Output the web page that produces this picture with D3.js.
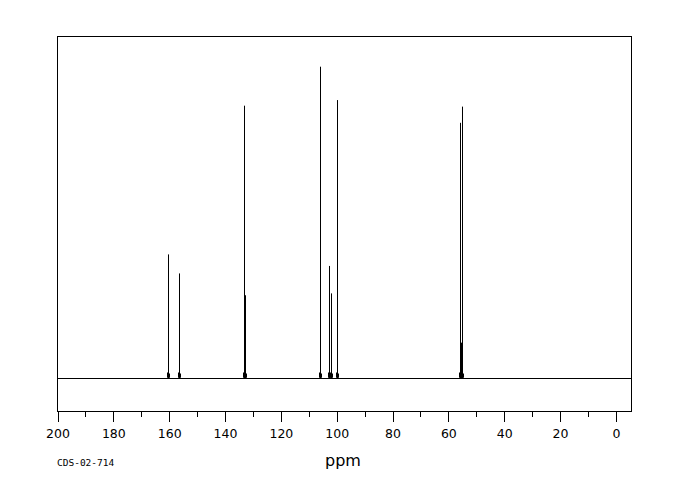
<!DOCTYPE html>
<html><head><meta charset="utf-8">
<script src="https://cdn.jsdelivr.net/npm/d3@7/dist/d3.min.js"></script>
<style>body{margin:0;background:#fff}svg{display:block}</style>
</head><body><svg id="c" width="680" height="500"></svg>
<script>
// Peak positions (ppm) and relative intensities (tallest = 100)
const peakPpm = [160.23, 156.29, 133.0, 132.57, 105.77, 102.4, 102.0, 99.68, 55.61, 55.25, 54.89];
const peakInt = [39.8, 33.7, 87.5, 26.7, 100, 36.1, 27.3, 89.3, 82.0, 11.5, 87.2];
const majorTicks = [200, 180, 160, 140, 120, 100, 80, 60, 40, 20, 0];
const minorTicks = [190, 170, 150, 130, 110, 90, 70, 50, 30, 10];
const xLabel = "ppm";
const codeLabel = "CDS-02-714";

(function () {
const svg = d3.select("#c");
const mLeft = 57.5, mRight = 631.5, mTop = 36.5, mBottom = 411.5;
const x = d3.scaleLinear().domain([200, -5.6]).range([mLeft, mRight]);
const y = d3.scaleLinear().domain([0, 100]).range([378.5, 66.7]);

svg.append("rect").attr("x", mLeft).attr("y", mTop)
  .attr("width", mRight - mLeft).attr("height", mBottom - mTop)
  .attr("fill", "none").attr("stroke", "#000").attr("stroke-width", 1)
  .attr("shape-rendering", "crispEdges");

const gMaj = svg.append("g").attr("transform", `translate(0,${mBottom})`)
  .call(d3.axisBottom(x).tickValues(majorTicks).tickSize(10).tickPadding(8).tickFormat(d3.format("d")));
gMaj.select(".domain").remove();
gMaj.selectAll("line").attr("stroke", "#000").attr("shape-rendering", "crispEdges");
gMaj.selectAll("text").attr("font-family", "DejaVu Sans")
  .attr("font-size", "12.5px").attr("fill", "#000");

const gMin = svg.append("g").attr("transform", `translate(0,${mBottom})`)
  .call(d3.axisBottom(x).tickValues(minorTicks).tickSize(5).tickFormat(""));
gMin.select(".domain").remove();
gMin.selectAll("line").attr("stroke", "#000").attr("shape-rendering", "crispEdges");

const y0 = y(0);
svg.append("line").attr("x1", mLeft).attr("x2", mRight).attr("y1", y0).attr("y2", y0)
  .attr("stroke", "#000").attr("stroke-width", 1).attr("shape-rendering", "crispEdges");

const peaks = peakPpm.map((p, i) => ({p, v: peakInt[i], px: Math.floor(x(p)) + 0.5}));
svg.append("g").selectAll("path").data(peaks).join("path")
  .attr("d", d => {
    const px = d.px;
    return `M${px-2},${y0} L${px-1},${y0-1} L${px-1},${y0-6} M${px+1},${y0-5} L${px+1},${y0-1} L${px+2},${y0}`;
  })
  .attr("fill", "none").attr("stroke", "#000").attr("stroke-width", 1);
svg.append("g").selectAll("line").data(peaks).join("line")
  .attr("x1", d => d.px).attr("x2", d => d.px)
  .attr("y1", y0).attr("y2", d => y(d.v))
  .attr("stroke", "#000").attr("stroke-width", 1);

svg.append("text").attr("x", 343).attr("y", 466).attr("text-anchor", "middle")
  .attr("font-family", "DejaVu Sans")
  .attr("font-size", "16px").attr("fill", "#000").text(xLabel);
svg.append("text").attr("x", 57).attr("y", 466)
  .attr("font-family", "DejaVu Sans Mono").attr("font-size", "9.5px").attr("fill", "#000").text(codeLabel);
})();
</script></body></html>
